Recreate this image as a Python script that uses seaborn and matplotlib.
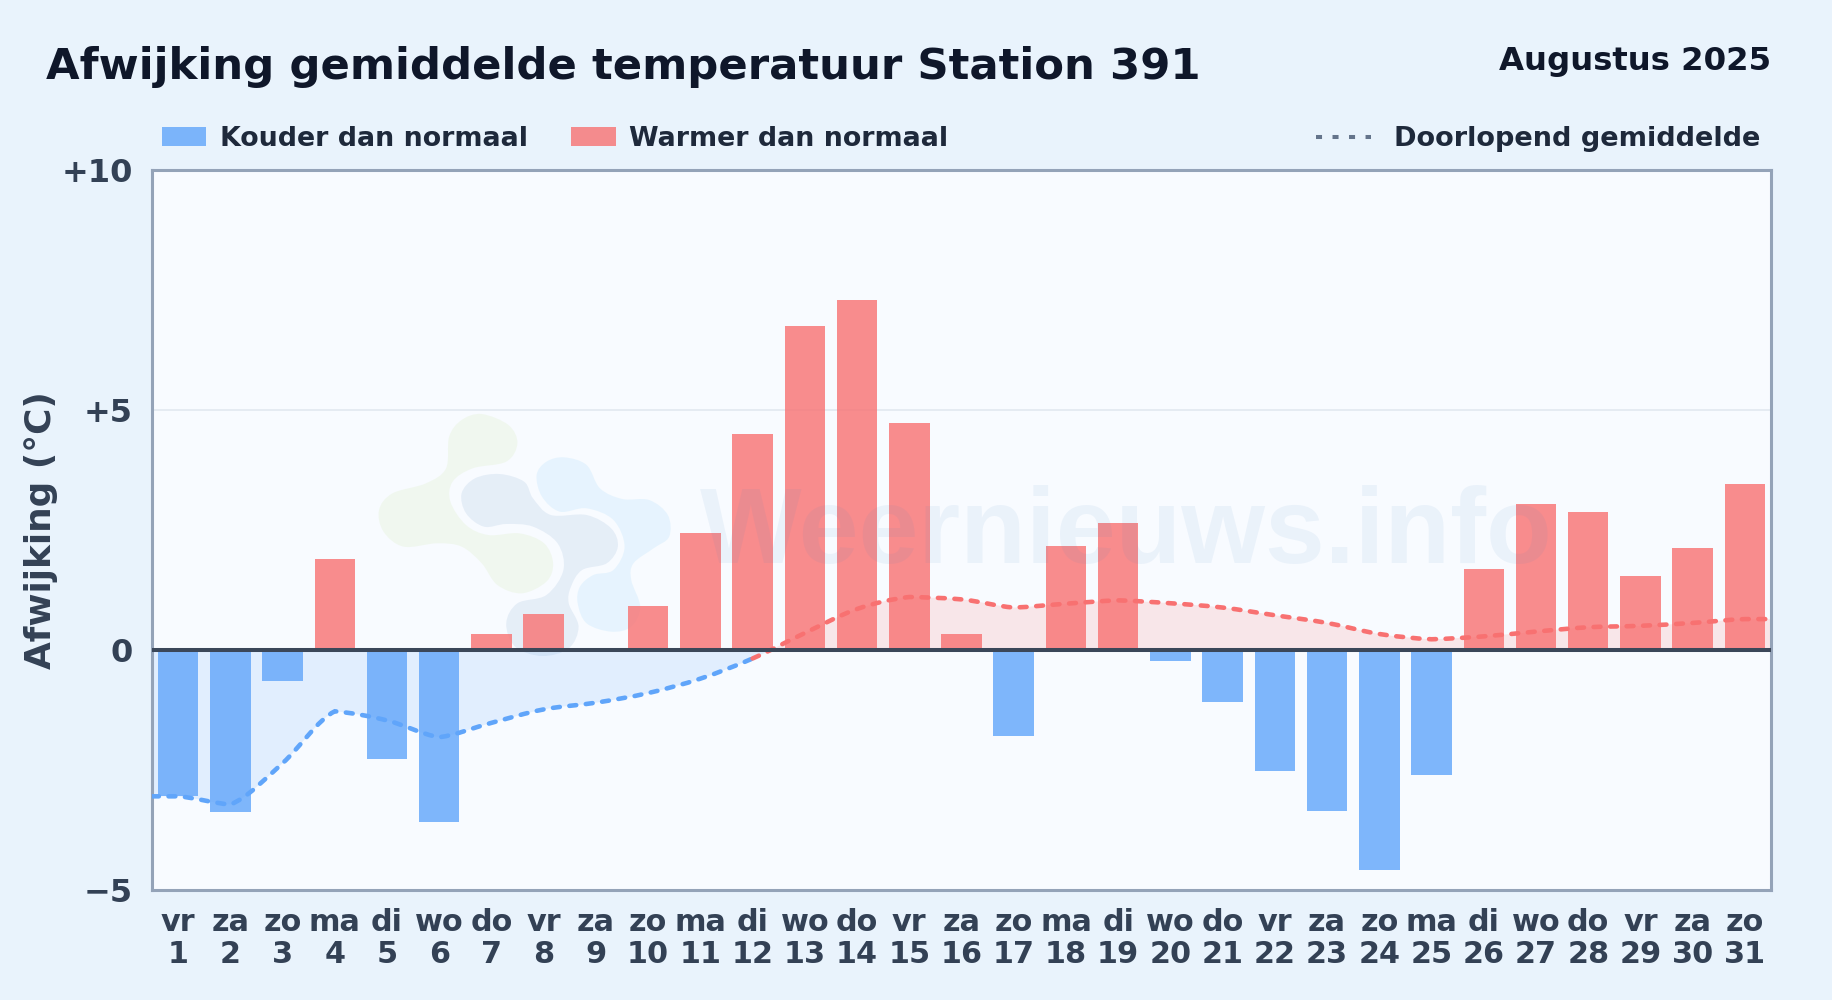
import numpy as np
import pandas as pd
import matplotlib
matplotlib.use("Agg")
import matplotlib.pyplot as plt
import seaborn as sns
from matplotlib.lines import Line2D
from matplotlib.patches import PathPatch, Rectangle
from matplotlib.path import Path

weekdays = ["vr", "za", "zo", "ma", "di", "wo", "do", "vr", "za", "zo", "ma", "di", "wo", "do", "vr", "za",
            "zo", "ma", "di", "wo", "do", "vr", "za", "zo", "ma", "di", "wo", "do", "vr", "za", "zo"]
deviation = [-3.05, -3.37, -0.64, 1.90, -2.28, -3.58, 0.33, 0.75, 0.0, 0.92, 2.44, 4.50, 6.74, 7.28, 4.73, 0.33,
             -1.79, 2.17, 2.65, -0.23, -1.08, -2.52, -3.35, -4.59, -2.60, 1.69, 3.04, 2.875, 1.54, 2.125, 3.46]
running_mean = [-3.05, -3.22, -2.36, -1.28, -1.47, -1.82, -1.52, -1.24, -1.10, -0.90, -0.60, -0.18, 0.35, 0.85,
                1.10, 1.05, 0.88, 0.96, 1.03, 0.97, 0.88, 0.72, 0.56, 0.33, 0.22, 0.28, 0.38, 0.47, 0.50, 0.56, 0.64]
y_ticks = [-5, 0, 5, 10]
y_tick_labels = ["\u22125", "0", "+5", "+10"]

W, H = 1832, 1000
BG = "#e9f3fc"
PLOT_BG = "#f8fbff"
BLUE = "#60a5fa"
RED = "#f87171"
TICK = "#334155"


def fx(x):
    return x / W


def fy(y):
    return 1 - y / H


def smooth_path(xs, ys):
    # cubic segments through the points; turning points keep a soft corner
    xs, ys = np.asarray(xs, float), np.asarray(ys, float)
    h = np.diff(xs)
    s = np.diff(ys) / h
    t_in = np.zeros(len(xs))
    t_out = np.zeros(len(xs))
    for i in range(1, len(xs) - 1):
        if s[i - 1] * s[i] > 0:
            p = (s[i - 1] * h[i] + s[i] * h[i - 1]) / (h[i - 1] + h[i])
            t_in[i] = t_out[i] = np.sign(s[i]) * min(abs(s[i - 1]), abs(s[i]), 0.5 * abs(p)) * 2
        else:
            t_in[i] = 0.5 * s[i - 1]
            t_out[i] = 0.5 * s[i]
    verts = [(xs[0], ys[0])]
    codes = [Path.MOVETO]
    for i in range(len(h)):
        verts += [(xs[i] + h[i] / 3, ys[i] + t_out[i] * h[i] / 3),
                  (xs[i + 1] - h[i] / 3, ys[i + 1] - t_in[i + 1] * h[i] / 3),
                  (xs[i + 1], ys[i + 1])]
        codes += [Path.CURVE4] * 3
    return verts, codes


def blob(ax, points, color, alpha):
    # logo shape, points read from the watermark in pixels of the picture
    pts = np.array(points, float)
    n = len(pts)
    verts = [(fx(pts[0][0]), fy(pts[0][1]))]
    codes = [Path.MOVETO]
    for i in range(n):
        p0, p1, p2, p3 = pts[i - 1], pts[i], pts[(i + 1) % n], pts[(i + 2) % n]
        for q in (p1 + (p2 - p0) / 6, p2 - (p3 - p1) / 6, p2):
            verts.append((fx(q[0]), fy(q[1])))
            codes.append(Path.CURVE4)
    ax.add_patch(PathPatch(Path(verts, codes), facecolor=color, edgecolor="none", alpha=alpha,
                           transform=ax.figure.transFigure, zorder=0.6))


def zoomed(points):
    return [(350 + x / 2.24, 400 + y / 3) for x, y in points]


logo_green = zoomed([(295, 42), (355, 75), (375, 130), (350, 185), (275, 205), (230, 245), (225, 305), (260, 375),
                     (310, 405), (380, 400), (435, 430), (455, 490), (440, 545), (385, 580), (330, 555), (295, 490),
                     (250, 440), (195, 430), (120, 440), (75, 395), (65, 330), (95, 280), (170, 250), (215, 205),
                     (222, 110), (250, 60)])
logo_navy = zoomed([(335, 222), (390, 245), (410, 295), (450, 345), (530, 345), (585, 385), (600, 440), (575, 490),
                    (520, 510), (495, 560), (490, 610), (512, 680), (490, 745), (430, 768), (370, 740), (350, 670),
                    (375, 610), (440, 585), (478, 510), (465, 430), (410, 380), (350, 372), (300, 380), (260, 340),
                    (250, 280), (280, 235)])
logo_sky = zoomed([(480, 172), (530, 195), (560, 265), (610, 297), (670, 300), (712, 345), (715, 410), (680, 445),
                   (635, 490), (630, 540), (650, 620), (630, 680), (585, 695), (530, 670), (510, 610), (515, 560),
                   (545, 525), (590, 510), (615, 440), (590, 360), (530, 325), (470, 335), (430, 290), (418, 225),
                   (440, 185)])

sns.set_theme(style="white")
plt.rcParams["font.family"] = ["DejaVu Sans"]

fig = plt.figure(figsize=(W / 100, H / 100), dpi=100, facecolor=BG)
ax = fig.add_axes([fx(152), fy(890), (1771 - 152) / W, (890 - 169.5) / H], facecolor=PLOT_BG)

df = pd.DataFrame({
    "day": [f"{d}\n{i + 1}" for i, d in enumerate(weekdays)],
    "value": deviation,
    "kind": ["Kouder dan normaal" if v < 0 else "Warmer dan normaal" for v in deviation],
})
sns.barplot(data=df, x="day", y="value", hue="kind", dodge=False, width=0.775, saturation=1, alpha=0.8,
            hue_order=["Kouder dan normaal", "Warmer dan normaal"], palette=[BLUE, RED],
            linewidth=0, zorder=2, ax=ax)

ax.set_xlim(-0.5, 30.5)
ax.set_ylim(-5, 10)
ax.set_xlabel("")
ax.set_ylabel("Afwijking (\u00b0C)", fontsize=25.8, fontweight="bold", color=TICK, labelpad=0)
ax.yaxis.set_label_coords((58 - 152) / (1771 - 152), 0.5)
ax.set_yticks(y_ticks, y_tick_labels)
ax.tick_params(axis="y", length=0, pad=14, labelsize=23, labelcolor=TICK)
ax.tick_params(axis="x", length=0, pad=13, labelsize=21.8, labelcolor=TICK)
for lab in ax.get_xticklabels() + ax.get_yticklabels():
    lab.set_fontweight("bold")
for lab in ax.get_xticklabels():
    lab.set_linespacing(1.13)
for spine in ax.spines.values():
    spine.set_color("#94a3b8")
    spine.set_linewidth(2.2)

ax.axhline(5, color="#e5ebf2", lw=1.4, zorder=1)
ax.axhline(0, color="#3b4759", lw=2.9, zorder=4.5)

# watermark
blob(ax, logo_green, "#bcdf80", 0.12)
blob(ax, logo_navy, "#2a6cb0", 0.09)
blob(ax, logo_sky, "#7cc8fa", 0.14)
ax.text(fx(700), fy(563), "Weernieuws.info", transform=fig.transFigure, fontsize=77.5, family="Liberation Sans",
        fontweight="bold", color="#3b82c4", alpha=0.07, va="baseline", ha="left", zorder=3)

# running mean, runs on to both plot edges
line_x = [-0.5] + list(range(31)) + [30.5]
line_y = [running_mean[0]] + running_mean + [running_mean[-1]]
verts, codes = smooth_path(line_x, line_y)
area_path = Path(verts + [(30.5, 0), (-0.5, 0), (-0.5, 0)], codes + [Path.LINETO, Path.LINETO, Path.CLOSEPOLY])
area = PathPatch(area_path, facecolor=BLUE, edgecolor="none", alpha=0.15, zorder=1.5)
ax.add_patch(area)
area.set_clip_path(Rectangle((-0.5, -5), 31, 5, transform=ax.transData))
area = PathPatch(area_path, facecolor=RED, edgecolor="none", alpha=0.15, zorder=1.5)
ax.add_patch(area)
area.set_clip_path(Rectangle((-0.5, 0), 31, 10, transform=ax.transData))

split = 12 * 3  # segment index of day 12, where the colour changes
blue_part = PathPatch(Path(verts[:split + 1], codes[:split + 1]), fill=False, edgecolor=BLUE, lw=3.3,
                      linestyle=(0, (1.5, 2.1)), capstyle="round", zorder=4)
red_part = PathPatch(Path(verts[split:], [Path.MOVETO] + codes[split + 1:]), fill=False, edgecolor=RED, lw=3.3,
                     linestyle=(0, (1.5, 2.1)), capstyle="round", zorder=4)
ax.add_patch(blue_part)
ax.add_patch(red_part)

# legends
handles, labels = ax.get_legend_handles_labels()
bar_legend = ax.legend(handles, labels, ncol=2, loc="lower left", bbox_to_anchor=(fx(162), fy(152)),
                       bbox_transform=fig.transFigure, frameon=False, borderpad=0, borderaxespad=0,
                       handlelength=1.64, handleheight=0.71, handletextpad=0.5, columnspacing=1.62,
                       prop={"size": 19.4, "weight": "bold"}, labelcolor="#1e293b")
ax.add_artist(bar_legend)
mean_handle = Line2D([], [], color="#64748b", lw=2.9, linestyle=(0, (1.5, 2.6)), dash_capstyle="butt")
ax.legend([mean_handle], ["Doorlopend gemiddelde"], loc="lower right", bbox_to_anchor=(fx(1760), fy(152)),
          bbox_transform=fig.transFigure, frameon=False, borderpad=0, borderaxespad=0,
          handlelength=2.06, handletextpad=0.82, prop={"size": 19.5, "weight": "bold"}, labelcolor="#1e293b")

fig.text(fx(46), fy(79.3), "Afwijking gemiddelde temperatuur Station 391", fontsize=31.2, fontweight="bold",
         color="#0f172a", va="baseline", ha="left")
fig.text(fx(1771), fy(70), "Augustus 2025", fontsize=23.3, fontweight="bold", color="#0f172a",
         va="baseline", ha="right")

fig.savefig("out.png", dpi=100, facecolor=BG)
